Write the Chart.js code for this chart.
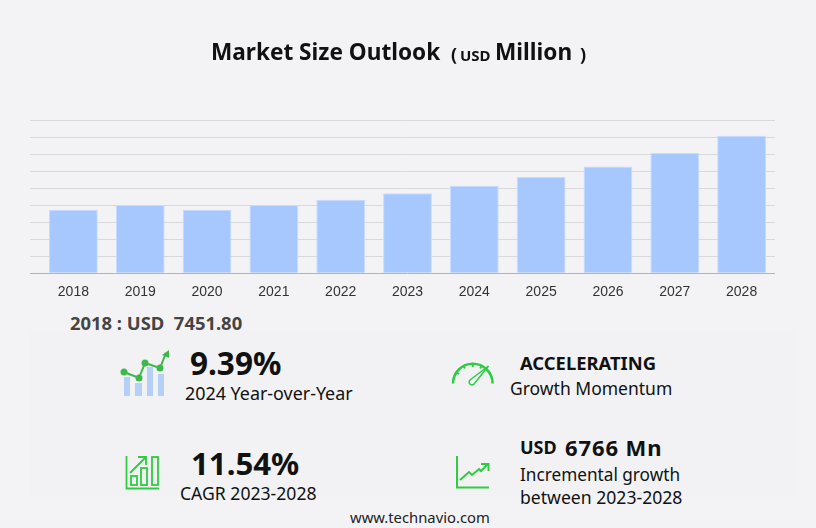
<!DOCTYPE html>
<html>
<head>
    <title>Market Size Outlook</title>
    <script src="https://cdn.jsdelivr.net/npm/chart.js@4"></script>
</head>

<style>
    body {
        margin: 0;
        width: 816px;
        height: 528px;
        overflow: hidden;
        position: relative;
        background: #f3f3f6;
        font-family: 'Noto Sans', sans-serif;
        color: #111;
    }

    #myChart { position: absolute; left: 0; top: 0; }

    .panel { position: absolute; left: 30px; top: 330px; width: 765px; height: 167px; background: #f2f2f4; }

    .t { position: absolute; white-space: nowrap; line-height: 30px; height: 30px; }
    .b { font-weight: 700; }
    svg { position: absolute; left: 0; top: 0; }
</style>

<body>
    <div class="panel"></div>
    <canvas id="myChart" width="816" height="304"></canvas>

    <div class="t b" style="left:211px;top:37px;font-size:22.6px">Market Size Outlook</div>
    <div class="t b" style="left:451px;top:39px;font-size:18px">(</div>
    <div class="t b" style="left:460px;top:40px;font-size:15px">USD</div>
    <div class="t b" style="left:495px;top:37px;font-size:22.6px">Million</div>
    <div class="t b" style="left:580px;top:39px;font-size:18px">)</div>

    <div class="t b" style="left:70px;top:308px;font-size:18.4px;color:#444">2018 : USD&nbsp; 7451.80</div>

    <div class="t b" style="left:190px;top:348px;font-size:31.5px">9.39%</div>
    <div class="t" style="left:185px;top:378px;font-size:17.9px">2024 Year-over-Year</div>
    <div class="t b" style="left:191px;top:448px;font-size:31.2px">11.54%</div>
    <div class="t" style="left:180px;top:478px;font-size:17.6px">CAGR 2023-2028</div>

    <div class="t b" style="left:520px;top:348px;font-size:18.4px">ACCELERATING</div>
    <div class="t" style="left:510px;top:373px;font-size:17.5px">Growth Momentum</div>
    <div class="t b" style="left:520px;top:432px;font-size:18px">USD</div>
    <div class="t b" style="left:565px;top:432px;font-size:22px;letter-spacing:.9px">6766 Mn</div>
    <div class="t" style="left:520px;top:460px;font-size:17.2px">Incremental growth</div>
    <div class="t" style="left:520px;top:482px;font-size:17.6px">between 2023-2028</div>

    <div class="t" style="left:350px;top:502px;font-size:14.8px;color:#222">www.technavio.com</div>

    <svg width="816" height="528" fill="none">
        <!-- icone barres + courbe -->
        <g fill="#b4d0f7">
            <rect x="124" y="377" width="6" height="19"/>
            <rect x="135" y="383" width="7" height="13"/>
            <rect x="147" y="367" width="6" height="29"/>
            <rect x="158" y="374" width="6" height="22"/>
        </g>
        <polyline points="124,372 139,378 145,363 160,368 166,353" stroke="#3cb94a" stroke-width="2"/>
        <g fill="#3cb94a">
            <circle cx="124" cy="372" r="3.5"/>
            <circle cx="139" cy="378" r="3.5"/>
            <circle cx="145" cy="363" r="3.5"/>
            <circle cx="160" cy="368" r="3.5"/>
            <path d="M162 355 L169 350 L169 358 Z"/>
        </g>
        <!-- icone CAGR -->
        <g stroke="#2ecc40" stroke-width="1.8">
            <path d="M126.500 456 V488.500 H159"/>
            <rect x="131" y="476" width="6" height="9"/>
            <rect x="141" y="468" width="6" height="17"/>
            <rect x="152" y="457" width="6" height="28"/>
            <path d="M130 473 L145 458 M138 457 H146 V465"/>
        </g>
        <!-- jauge -->
        <g stroke="#2ecc40">
            <path d="M453 383.500 A19.800 19.800 0 0 1 492.600 383.500" stroke-width="2.500"/>
            <path d="M456 372 L459 374 M463 365.500 L465 368.500 M472.800 363 V367 M482 365.500 L480 368.500" stroke-width="1.800"/>
        </g>
        <path d="M470 380 L488.500 366 L474 384 A2.800 2.800 0 0 1 470 380 Z" stroke="#2ecc40" stroke-width="1.500"/>
        <!-- icone croissance -->
        <g stroke="#2ecc40" stroke-width="2">
            <path d="M457 456 V487.500 H489"/>
            <path d="M460 480 L469 472 L472 475 L479 469 L481 471 L488 464"/>
            <path d="M481 464 H488.500 V471"/>
        </g>
    </svg>

    <script>
    const categories = ['2018', '2019', '2020', '2021', '2022', '2023', '2024', '2025', '2026', '2027', '2028'];
    const marketSize = [7451.8, 8000, 7450, 8000, 8620, 9384, 10265, 11290, 12540, 14115, 16150];
    const axisMax = 18000;
    const axisStep = 2000;

    const ctx = document.getElementById('myChart').getContext('2d');

    new Chart(ctx, {
        type: 'bar',
        data: {
            labels: categories,
            datasets: [{
                label: 'Market Size',
                data: marketSize,
                backgroundColor: '#a6c8ff',
                borderColor: '#c6dbff',
                borderWidth: 1,
                barPercentage: 0.73,
                categoryPercentage: 1
            }]
        },
        options: {
            responsive: false,
            animation: false,
            devicePixelRatio: 1,
            layout: { padding: { left: 30, right: 41, top: 120, bottom: 0 } },
            plugins: { legend: { display: false }, tooltip: { enabled: false } },
            scales: {
                x: {
                    grid: { display: false },
                    border: { display: false },
                    ticks: {
                        color: '#333',
                        padding: 3,
                        maxRotation: 0,
                        font: { family: "'Liberation Sans', Arial, sans-serif", size: 14 }
                    }
                },
                y: {
                    min: 0,
                    max: axisMax,
                    border: { display: false },
                    grid: {
                        color: c => c.tick.value === 0 ? '#b4b4b4' : '#d9d9dc',
                        tickLength: 10
                    },
                    ticks: { display: false, stepSize: axisStep }
                }
            }
        }
    });
    </script>
</body>
</html>
